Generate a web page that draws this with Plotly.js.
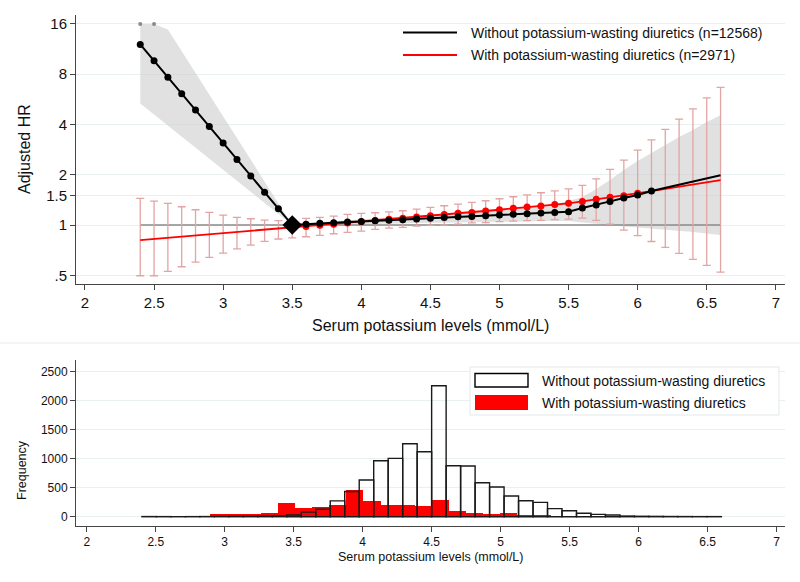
<!DOCTYPE html>
<html>
<head>
<meta charset="utf-8">
<script src="https://cdn.plot.ly/plotly-3.0.1.min.js"></script>
<style>html,body{margin:0;padding:0;background:#fff;}#chart{width:800px;height:582px;}</style>
</head>
<body>
<div id="chart"></div>
<script>
// ---------- Data: hazard ratio curves ----------
const potassium = [2.4,2.5,2.6,2.7,2.8,2.9,3.0,3.1,3.2,3.3,3.4,3.5,3.6,3.7,3.8,3.9,4.0,4.1,4.2,4.3,4.4,4.5,4.6,4.7,4.8,4.9,5.0,5.1,5.2,5.3,5.4,5.5,5.6,5.7,5.8,5.9,6.0,6.1,6.2,6.3,6.4,6.5,6.6];
const hrWithout = [12.06,9.62,7.67,6.12,4.88,3.89,3.10,2.47,1.97,1.572,1.254,1.0,1.01,1.024,1.032,1.042,1.052,1.061,1.067,1.076,1.086,1.097,1.109,1.121,1.127,1.137,1.148,1.159,1.169,1.18,1.191,1.201,1.264,1.317,1.386,1.451,1.512,1.598,1.67,1.745,1.824,1.906,1.99];
const ciWithoutUpper = [16,16,14.8,11.0,8.17,6.04,4.47,3.31,2.46,1.82,1.35,1.0,1.028,1.042,1.057,1.071,1.086,1.101,1.117,1.124,1.132,1.148,1.164,1.180,1.196,1.213,1.229,1.255,1.281,1.308,1.336,1.392,1.470,1.642,1.859,2.135,2.418,2.70,3.014,3.365,3.704,4.14,4.551];
const ciWithoutLower = [5.35,4.59,3.94,3.38,2.9,2.49,2.14,1.84,1.58,1.36,1.16,1.0,1.0,1.0,1.007,1.007,1.014,1.014,1.021,1.021,1.028,1.028,1.035,1.035,1.042,1.042,1.042,1.049,1.049,1.057,1.057,1.057,1.035,1.014,0.993,0.98,0.966,0.953,0.94,0.921,0.908,0.889,0.871];
const hrWith = [0.813,0.826,0.839,0.852,0.865,0.878,0.892,0.906,0.921,0.935,0.949,0.963,0.980,0.996,1.012,1.029,1.046,1.064,1.082,1.100,1.118,1.137,1.156,1.175,1.191,1.213,1.235,1.259,1.281,1.299,1.330,1.349,1.386,1.425,1.465,1.497,1.548,1.598,1.647,1.697,1.745,1.801,1.859];
const ciWithUpper = [1.445,1.392,1.349,1.287,1.235,1.191,1.148,1.112,1.091,1.071,1.064,1.082,1.097,1.112,1.132,1.159,1.175,1.185,1.201,1.218,1.247,1.276,1.305,1.336,1.367,1.398,1.437,1.477,1.518,1.561,1.604,1.649,1.728,1.892,2.154,2.449,2.811,3.240,3.740,4.309,4.966,5.780,6.671];
const ciWithLower = [0.497,0.497,0.528,0.563,0.600,0.641,0.680,0.721,0.759,0.799,0.825,0.839,0.851,0.868,0.887,0.904,0.921,0.942,0.959,0.969,0.986,0.996,1.000,1.014,1.032,1.035,1.049,1.057,1.064,1.068,1.079,1.086,1.101,1.068,1.014,0.933,0.865,0.797,0.736,0.677,0.623,0.573,0.523];
const refPoint = 3.5;
const refLineX = [2.4, 6.6];
const refLineY = [1, 1];
const truncatedX = [2.4, 2.5];
const truncatedY = [16, 16];

// ---------- Data: histograms ----------
const withoutBinStart = 2.4, withoutBinEnd = 6.6;
const withoutCounts = [3,2,1,2,3,3,5,6,8,15,30,80,130,273,435,633,966,1006,1259,1121,2259,879,874,586,512,357,276,248,140,103,59,41,29,12,8,6,4,3,2,2];
const withBinStart = 2.4, withBinEnd = 6.6;
const withCounts = [3,10,5,8,40,41,52,69,231,145,172,202,460,265,202,195,184,288,103,62,50,60,24,24,8,6,5,3,2,2,1,1,12,1];

// ---------- Labels ----------
const labelWithoutTop = 'Without potassium-wasting diuretics (n=12568)';
const labelWithTop = 'With potassium-wasting diuretics (n=2971)';
const labelWithoutBottom = 'Without potassium-wasting diuretics';
const labelWithBottom = 'With potassium-wasting diuretics';
const xTitle = 'Serum potassium levels (mmol/L)';
const yTitleTop = 'Adjusted HR';
const yTitleBottom = 'Frequency';
const hrTickVals = [0.5, 1, 1.5, 2, 4, 8, 16];
const hrTickText = ['.5', '1', '1.5', '2', '4', '8', '16'];
const xTickVals = [2, 2.5, 3, 3.5, 4, 4.5, 5, 5.5, 6, 6.5, 7];
const xTickText = ['2', '2.5', '3', '3.5', '4', '4.5', '5', '5.5', '6', '6.5', '7'];
const freqTickVals = [0, 500, 1000, 1500, 2000, 2500];

// ---------- Derived ----------
function binCenters(start, end, n) {
  const w = (end - start) / n;
  return { w: w, c: Array.from({length: n}, (_, i) => start + w * (i + 0.5)) };
}
const wo = binCenters(withoutBinStart, withoutBinEnd, withoutCounts.length);
const wi = binCenters(withBinStart, withBinEnd, withCounts.length);

const FONT = 'Liberation Sans, Arial, sans-serif';
const markIdx = potassium.map((x, i) => i).filter(i => potassium[i] <= 6.1 + 1e-9 && Math.abs(potassium[i] - refPoint) > 1e-9);
const redMarkIdx = potassium.map((x, i) => i).filter(i => potassium[i] > refPoint + 1e-9 && potassium[i] <= 6.0 + 1e-9);
const refIdx = potassium.findIndex(x => Math.abs(x - refPoint) < 1e-9);

const traces = [
  // gray CI band (without)
  {x: potassium, y: ciWithoutUpper, mode: 'lines', line: {width: 0, color: 'rgba(0,0,0,0)'}, hoverinfo: 'skip', showlegend: false, xaxis: 'x', yaxis: 'y'},
  {x: potassium, y: ciWithoutLower, mode: 'lines', line: {width: 0, color: 'rgba(0,0,0,0)'}, fill: 'tonexty', fillcolor: 'rgba(205,205,205,0.6)', hoverinfo: 'skip', showlegend: false, xaxis: 'x', yaxis: 'y'},
  // reference line at HR = 1
  {x: refLineX, y: refLineY, mode: 'lines', line: {color: '#8a8a8a', width: 1.6}, showlegend: false, xaxis: 'x', yaxis: 'y'},
  // truncated CI markers
  {x: truncatedX, y: truncatedY, mode: 'markers', marker: {color: '#8a8a8a', size: 4}, showlegend: false, xaxis: 'x', yaxis: 'y'},
  // red error bars
  {x: potassium, y: hrWith, mode: 'markers', marker: {size: 1, color: 'rgba(0,0,0,0)'},
   error_y: {type: 'data', symmetric: false,
     array: ciWithUpper.map((u, i) => u - hrWith[i]),
     arrayminus: ciWithLower.map((l, i) => hrWith[i] - l),
     color: '#e2a4a4', thickness: 1.3, width: 4},
   showlegend: false, xaxis: 'x', yaxis: 'y'},
  // red line
  {x: potassium, y: hrWith, mode: 'lines', line: {color: '#ff0000', width: 1.8}, showlegend: false, xaxis: 'x', yaxis: 'y'},
  {x: redMarkIdx.map(i => potassium[i]), y: redMarkIdx.map(i => hrWith[i]), mode: 'markers', marker: {color: '#ff0000', size: 7}, showlegend: false, xaxis: 'x', yaxis: 'y'},
  // black line
  {x: potassium, y: hrWithout, mode: 'lines', line: {color: '#000000', width: 2}, showlegend: false, xaxis: 'x', yaxis: 'y'},
  {x: markIdx.map(i => potassium[i]), y: markIdx.map(i => hrWithout[i]), mode: 'markers', marker: {color: '#000000', size: 7}, showlegend: false, xaxis: 'x', yaxis: 'y'},
  {x: [potassium[refIdx]], y: [hrWithout[refIdx]], mode: 'markers', marker: {color: '#000000', size: 15, symbol: 'diamond'}, showlegend: false, xaxis: 'x', yaxis: 'y'},
  // histograms
  {type: 'bar', x: wi.c, y: withCounts, width: wi.w, marker: {color: '#ff0000', line: {width: 0}}, showlegend: false, xaxis: 'x2', yaxis: 'y2'},
  {type: 'bar', x: wo.c, y: withoutCounts, width: wo.w, marker: {color: 'rgba(255,255,255,0)', line: {color: '#1a1a1a', width: 1.4}}, showlegend: false, xaxis: 'x2', yaxis: 'y2'}
];

const axisCommon = {
  showline: true, linecolor: '#444', linewidth: 1,
  ticks: 'outside', ticklen: 5, tickcolor: '#444', tickwidth: 1,
  zeroline: false, tickfont: {family: FONT, size: 14, color: '#111'}
};
const gridColor = '#e8f0f1';

const layout = {
  width: 800, height: 582,
  margin: {l: 0, r: 0, t: 0, b: 0},
  paper_bgcolor: '#ffffff', plot_bgcolor: '#ffffff',
  barmode: 'overlay', bargap: 0,
  showlegend: false,
  font: {family: FONT, color: '#111'},
  xaxis: Object.assign({}, axisCommon, {domain: [0.095, 0.981], range: [1.935, 7.065], tickvals: xTickVals, ticktext: xTickText, showgrid: false, anchor: 'y', tickfont: {family: FONT, size: 15, color: '#111'}}),
  yaxis: Object.assign({}, axisCommon, {domain: [0.512, 0.974], type: 'log', range: [-0.353, 1.257], tickvals: hrTickVals, ticktext: hrTickText, showgrid: true, gridcolor: gridColor, gridwidth: 1, anchor: 'x', tickfont: {family: FONT, size: 15, color: '#111'}}),
  xaxis2: Object.assign({}, axisCommon, {domain: [0.095, 0.981], range: [1.922, 7.06], tickvals: xTickVals, ticktext: xTickText, showgrid: false, anchor: 'y2', tickfont: {family: FONT, size: 12, color: '#111'}}),
  yaxis2: Object.assign({}, axisCommon, {domain: [0.0962, 0.3814], range: [-160, 2702], tickvals: freqTickVals, showgrid: true, gridcolor: gridColor, gridwidth: 1, anchor: 'x2', tickfont: {family: FONT, size: 12, color: '#111'}}),
  shapes: [
    // separator between panels
    {type: 'line', xref: 'paper', yref: 'paper', x0: 0, x1: 1, y0: 1 - 343 / 582, y1: 1 - 343 / 582, line: {color: '#eef3f4', width: 1.5}},
    // top legend lines
    {type: 'line', xref: 'paper', yref: 'paper', x0: 403 / 800, x1: 457 / 800, y0: 1 - 32.5 / 582, y1: 1 - 32.5 / 582, line: {color: '#000', width: 2}},
    {type: 'line', xref: 'paper', yref: 'paper', x0: 403 / 800, x1: 457 / 800, y0: 1 - 55 / 582, y1: 1 - 55 / 582, line: {color: '#ff0000', width: 2}},
    // bottom legend box
    {type: 'rect', xref: 'paper', yref: 'paper', x0: 470 / 800, x1: 779 / 800, y0: 1 - 415 / 582, y1: 1 - 367 / 582, line: {color: '#e3e8e9', width: 1}, fillcolor: '#ffffff', layer: 'above'},
    {type: 'rect', xref: 'paper', yref: 'paper', x0: 475 / 800, x1: 528 / 800, y0: 1 - 387 / 582, y1: 1 - 373.5 / 582, line: {color: '#000', width: 1.4}, fillcolor: '#ffffff', layer: 'above'},
    {type: 'rect', xref: 'paper', yref: 'paper', x0: 475 / 800, x1: 528 / 800, y0: 1 - 410 / 582, y1: 1 - 395 / 582, line: {color: '#ff0000', width: 0}, fillcolor: '#ff0000', layer: 'above'}
  ],
  annotations: [
    {text: labelWithoutTop, xref: 'paper', yref: 'paper', x: 469 / 800, y: 1 - 32.5 / 582, xanchor: 'left', yanchor: 'middle', showarrow: false, font: {family: FONT, size: 14, color: '#111'}},
    {text: labelWithTop, xref: 'paper', yref: 'paper', x: 469 / 800, y: 1 - 55 / 582, xanchor: 'left', yanchor: 'middle', showarrow: false, font: {family: FONT, size: 14, color: '#111'}},
    {text: labelWithoutBottom, xref: 'paper', yref: 'paper', x: 540 / 800, y: 1 - 381 / 582, xanchor: 'left', yanchor: 'middle', showarrow: false, font: {family: FONT, size: 14, color: '#111'}},
    {text: labelWithBottom, xref: 'paper', yref: 'paper', x: 540 / 800, y: 1 - 403 / 582, xanchor: 'left', yanchor: 'middle', showarrow: false, font: {family: FONT, size: 14, color: '#111'}},
    {text: xTitle, xref: 'paper', yref: 'paper', x: 431 / 800, y: 1 - 325 / 582, xanchor: 'center', yanchor: 'middle', showarrow: false, font: {family: FONT, size: 16, color: '#111'}},
    {text: yTitleTop, xref: 'paper', yref: 'paper', x: 24 / 800, y: 1 - 149 / 582, xanchor: 'center', yanchor: 'middle', textangle: -90, showarrow: false, font: {family: FONT, size: 16, color: '#111'}},
    {text: xTitle, xref: 'paper', yref: 'paper', x: 431 / 800, y: 1 - 557 / 582, xanchor: 'center', yanchor: 'middle', showarrow: false, font: {family: FONT, size: 12.5, color: '#111'}},
    {text: yTitleBottom, xref: 'paper', yref: 'paper', x: 22 / 800, y: 1 - 470 / 582, xanchor: 'center', yanchor: 'middle', textangle: -90, showarrow: false, font: {family: FONT, size: 12.5, color: '#111'}}
  ]
};

Plotly.newPlot('chart', traces, layout, {staticPlot: true, displayModeBar: false});
</script>
</body>
</html>
